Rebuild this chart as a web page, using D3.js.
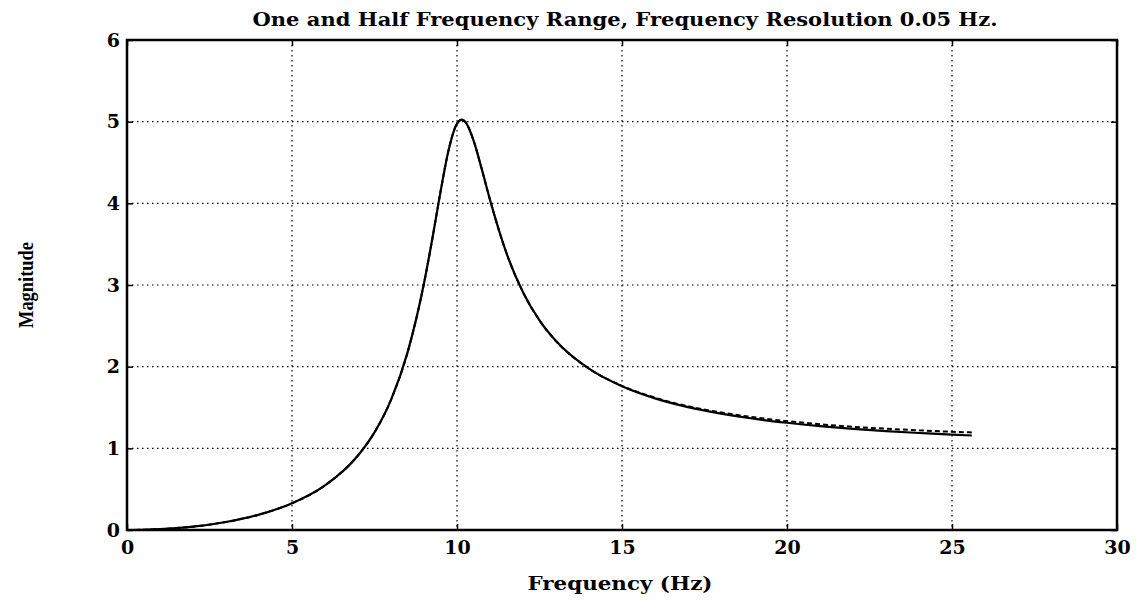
<!DOCTYPE html>
<html>
<head>
<meta charset="utf-8">
<script src="https://cdn.jsdelivr.net/npm/d3@7"></script>
<style>
  html, body { margin: 0; padding: 0; background: #fff; }
  svg { display: block; }
  text { fill: #000; }
</style>
</head>
<body>
<svg id="chart" width="1136" height="601"></svg>
<script>
// ---- data ----
const titleText = "One and Half Frequency Range, Frequency Resolution 0.05 Hz.";
const xLabel = "Frequency (Hz)";
const yLabel = "Magnitude";
const xTicks = [0, 5, 10, 15, 20, 25, 30];
const yTicks = [0, 1, 2, 3, 4, 5, 6];

const freqA = [0, 0.5, 1, 1.5, 2, 3, 4, 5, 6, 7, 7.5, 8, 8.5, 9, 9.25, 9.5, 9.75, 10, 10.15, 10.25, 10.5, 10.75, 11, 11.5, 12, 12.5, 13, 14, 15, 16, 17, 18, 19, 20, 21, 22, 23, 24, 25, 25.6];
const magSolid = [0, 0.0025, 0.010, 0.023, 0.041, 0.098, 0.188, 0.327, 0.546, 0.913, 1.196, 1.594, 2.172, 3.021, 3.561, 4.141, 4.660, 4.976, 5.025, 4.998, 4.772, 4.420, 4.043, 3.389, 2.912, 2.567, 2.314, 1.975, 1.760, 1.612, 1.505, 1.425, 1.362, 1.313, 1.272, 1.238, 1.210, 1.188, 1.167, 1.157];
const magDashed = [0, 0.0025, 0.010, 0.023, 0.041, 0.098, 0.188, 0.327, 0.546, 0.913, 1.196, 1.594, 2.172, 3.021, 3.561, 4.141, 4.660, 4.976, 5.025, 4.998, 4.772, 4.420, 4.043, 3.389, 2.912, 2.567, 2.314, 1.975, 1.765, 1.620, 1.515, 1.440, 1.380, 1.333, 1.295, 1.264, 1.240, 1.220, 1.203, 1.195];

// ---- layout ----
const svg = d3.select("#chart");
const L = 127, R = 1117, T = 40, B = 530;
const x = d3.scaleLinear().domain([0, 30]).range([L, R]);
const y = d3.scaleLinear().domain([0, 6]).range([B, T]);

const serif = "'DejaVu Serif', 'Liberation Serif', serif";

// grid
const grid = svg.append("g").attr("stroke", "#000").attr("stroke-width", 1.2)
  .attr("stroke-dasharray", "1.5,3.5");
xTicks.filter(d => d > 0 && d < 30).forEach(d => {
  grid.append("line").attr("x1", x(d)).attr("x2", x(d)).attr("y1", T).attr("y2", B);
});
yTicks.filter(d => d > 0 && d < 6).forEach(d => {
  grid.append("line").attr("x1", L).attr("x2", R).attr("y1", y(d)).attr("y2", y(d));
});

// axes via d3
const xAxis = d3.axisBottom(x).tickValues(xTicks).tickSize(-6).tickPadding(11).tickFormat(d3.format("d"));
const yAxis = d3.axisLeft(y).tickValues(yTicks).tickSize(-6).tickPadding(7).tickFormat(d3.format("d"));
const gx = svg.append("g").attr("transform", `translate(0,${B})`).call(xAxis);
const gy = svg.append("g").attr("transform", `translate(${L},0)`).call(yAxis);
[gx, gy].forEach(g => {
  g.select(".domain").remove();
  g.selectAll(".tick line").attr("stroke", "#000").attr("stroke-width", 1.5);
  g.selectAll(".tick text").attr("font-family", serif).attr("font-weight", "bold")
    .attr("font-size", 19).attr("fill", "#000");
});
// top/right inward ticks
const gxt = svg.append("g").attr("transform", `translate(0,${T})`)
  .call(d3.axisTop(x).tickValues(xTicks).tickSize(-6).tickFormat(""));
const gyr = svg.append("g").attr("transform", `translate(${R},0)`)
  .call(d3.axisRight(y).tickValues(yTicks).tickSize(-6).tickFormat(""));
[gxt, gyr].forEach(g => {
  g.select(".domain").remove();
  g.selectAll(".tick line").attr("stroke", "#000").attr("stroke-width", 1.5);
});

// frame
svg.append("rect").attr("x", L).attr("y", T).attr("width", R - L).attr("height", B - T)
  .attr("fill", "none").attr("stroke", "#000").attr("stroke-width", 2.5);

// curves
const ptsSolid = freqA.map((f, i) => [f, magSolid[i]]);
const ptsDashed = freqA.map((f, i) => [f, magDashed[i]]);
const line = d3.line().x(d => x(d[0])).y(d => y(d[1])).curve(d3.curveMonotoneX);

svg.append("path").datum(ptsDashed).attr("d", line).attr("fill", "none")
  .attr("stroke", "#000").attr("stroke-width", 2).attr("stroke-dasharray", "5,3");
svg.append("path").datum(ptsSolid).attr("d", line).attr("fill", "none")
  .attr("stroke", "#000").attr("stroke-width", 2.2);

// title
svg.append("text").attr("x", 625).attr("y", 26).attr("text-anchor", "middle")
  .attr("font-family", serif).attr("font-weight", "bold").attr("font-size", 18)
  .attr("textLength", 745).attr("lengthAdjust", "spacingAndGlyphs")
  .text(titleText);

// x label
svg.append("text").attr("x", 620).attr("y", 590).attr("text-anchor", "middle")
  .attr("font-family", serif).attr("font-weight", "bold").attr("font-size", 18)
  .attr("textLength", 185).attr("lengthAdjust", "spacingAndGlyphs")
  .text(xLabel);

// y label
svg.append("text").attr("transform", "translate(33,285) rotate(-90)").attr("text-anchor", "middle")
  .attr("font-family", "'Liberation Serif', 'Times New Roman', serif").attr("font-weight", "bold").attr("font-size", 21)
  .attr("textLength", 86).attr("lengthAdjust", "spacingAndGlyphs")
  .text(yLabel);
</script>
</body>
</html>
